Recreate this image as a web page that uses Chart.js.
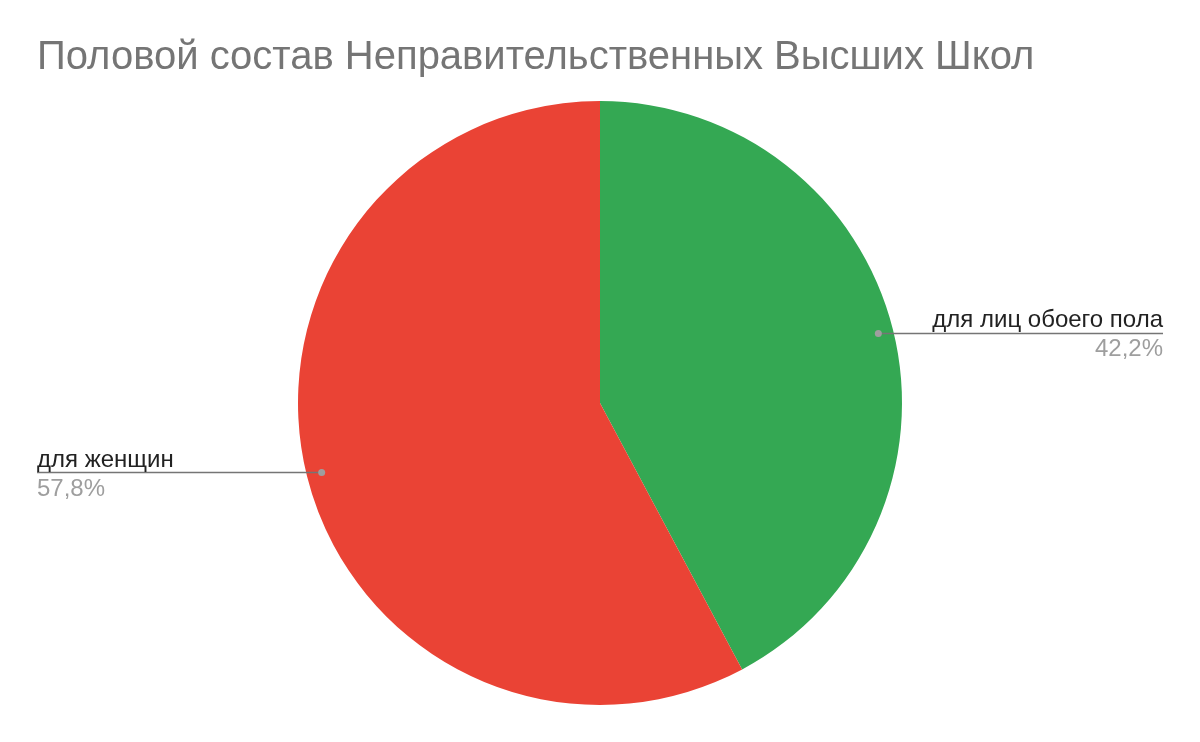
<!DOCTYPE html>
<html>
<head>
<meta charset="utf-8">
<script src="https://cdn.jsdelivr.net/npm/chart.js@4"></script>
<style>
  html, body { margin: 0; padding: 0; background: #fff; }
  #wrap { width: 1200px; height: 742px; }
</style>
</head>
<body>
<div id="wrap"><canvas id="pie"></canvas></div>
<script>
const chartTitle = 'Половой состав Неправительственных Высших Школ';
const categories = ['для лиц обоего пола', 'для женщин'];
const shares = [42.2, 57.8];
const sliceColors = ['#34a853', '#ea4335'];

// leader lines + labels like the sheets export
const sideLabels = {
  id: 'sideLabels',
  afterDatasetsDraw(chart) {
    const ctx = chart.ctx;
    const meta = chart.getDatasetMeta(0);
    const total = shares.reduce((a, b) => a + b, 0);
    meta.data.forEach((arc, i) => {
      const mid = (arc.startAngle + arc.endAngle) / 2;
      const r = arc.outerRadius * 0.95;
      const px = arc.x + Math.cos(mid) * r;
      const py = arc.y + Math.sin(mid) * r;
      const right = Math.cos(mid) >= 0;
      const endX = right ? 1163 : 37;
      const pct = (shares[i] / total * 100).toFixed(1).replace('.', ',') + '%';

      ctx.save();
      ctx.strokeStyle = '#757575';
      ctx.lineWidth = 1.5;
      ctx.beginPath();
      ctx.moveTo(px, py);
      ctx.lineTo(endX, py);
      ctx.stroke();
      ctx.fillStyle = '#9e9e9e';
      ctx.beginPath();
      ctx.arc(px, py, 3.5, 0, Math.PI * 2);
      ctx.fill();

      ctx.textAlign = right ? 'right' : 'left';
      ctx.textBaseline = 'alphabetic';
      ctx.font = '24px "Liberation Sans", Arial, sans-serif';
      ctx.fillStyle = '#222222';
      ctx.fillText(categories[i], endX, py - 6);
      ctx.fillStyle = '#9e9e9e';
      ctx.fillText(pct, endX, py + 23);
      ctx.restore();
    });
  }
};

new Chart(document.getElementById('pie'), {
  type: 'pie',
  data: {
    labels: categories,
    datasets: [{
      data: shares,
      backgroundColor: sliceColors,
      borderWidth: 0
    }]
  },
  options: {
    responsive: true,
    maintainAspectRatio: false,
    animation: false,
    layout: { padding: { top: 0, bottom: 37, left: 37, right: 37 } },
    plugins: {
      legend: { display: false },
      tooltip: { enabled: false },
      title: {
        display: true,
        text: chartTitle,
        align: 'start',
        color: '#757575',
        font: { family: '"Liberation Sans", Arial, sans-serif', size: 40, weight: 'normal', lineHeight: 1.2 },
        padding: { top: 34, bottom: 19 }
      }
    }
  },
  plugins: [sideLabels]
});
</script>
</body>
</html>
